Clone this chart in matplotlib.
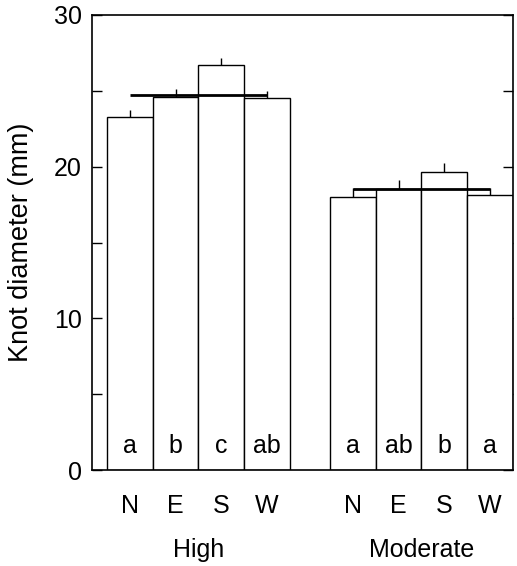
"""Knot diameter by aspect within two site productivity classes"""

import numpy as np
import matplotlib.pyplot as plt
from matplotlib.ticker import MultipleLocator

plt.rcParams['font.family'] = ['Liberation Sans', 'DejaVu Sans']

# ___ data ___
aspects = ['N', 'E', 'S', 'W']
groups = ['High', 'Moderate']
high_mean = [23.25, 24.6, 26.68, 24.5]
high_err = [0.48, 0.5, 0.46, 0.48]
mod_mean = [17.98, 18.52, 19.66, 18.13]
mod_err = [0.59, 0.6, 0.56, 0.44]
high_letters = ['a', 'b', 'c', 'ab']
mod_letters = ['a', 'ab', 'b', 'a']
group_means = [24.72, 18.56]

FS = 18

# x layout: four touching bars per group, gap between groups
x_high = np.arange(4)
x_mod = np.arange(4) + 4.87
width = 1.0

fig = plt.figure(figsize=(5.17, 5.66), dpi=100)
ax = fig.add_axes([0.1774, 0.1696, 0.8149, 0.8039])

for xs, means, errs, letters, gmean in [(x_high, high_mean, high_err, high_letters, group_means[0]),
                                        (x_mod, mod_mean, mod_err, mod_letters, group_means[1])]:
    ax.bar(xs, means, width=width, color='white', edgecolor='black', linewidth=1.0, zorder=2)
    ax.vlines(xs, means, np.array(means) + np.array(errs), color='black', linewidth=1.0, zorder=3)
    ax.hlines(gmean, xs[0], xs[-1], color='black', linewidth=2.0, zorder=4)
    for x, lab in zip(xs, letters):
        ax.text(x, 1.55, lab, ha='center', va='center', fontsize=FS, zorder=5)

ax.set_xlim(-0.83, x_mod[-1] + 0.5)
ax.set_ylim(0, 30)
ax.yaxis.set_major_locator(MultipleLocator(10))
ax.yaxis.set_minor_locator(MultipleLocator(5))
ax.tick_params(axis='y', which='both', direction='in', length=7, width=1.0,
               left=True, right=True, labelsize=FS, pad=7)
ax.set_xticks(np.concatenate([x_high, x_mod]))
ax.set_xticklabels(aspects + aspects)
ax.tick_params(axis='x', length=0, labelsize=FS, pad=17)

for sp in ax.spines.values():
    sp.set_linewidth(1.2)

ax.set_ylabel('Knot diameter (mm)', fontsize=19.5)
ax.yaxis.set_label_coords(-0.137, 0.5)

for xs, g in zip([x_high, x_mod], groups):
    ax.text(xs.mean(), -0.176, g, ha='center', va='center', fontsize=FS,
            transform=ax.get_xaxis_transform())

fig.savefig('out.png', dpi=100)
